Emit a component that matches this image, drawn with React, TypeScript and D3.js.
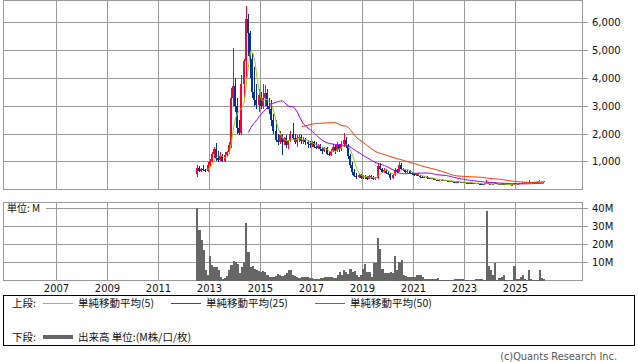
import React, { useEffect, useRef } from 'react'
import * as d3 from 'd3'

// monthly bars, first one is July 2012
const startYear = 2012
const startMonth = 6

// [open, high, low, close]
const candles = [
  // 2012
  [560, 890, 450, 800], [800, 850, 640, 680], [680, 800, 650, 760], [760, 890, 660, 700], [700, 740, 640, 660], [660, 1010, 650, 900],
  // 2013
  [900, 1100, 820, 1050], [1050, 1370, 1000, 1300], [1300, 1550, 1150, 1450], [1450, 1670, 1050, 1150], [1150, 1400, 1000, 1080], [1080, 1370, 1050, 1200],
  [1200, 1300, 1000, 1050], [1050, 1350, 1000, 1250], [1250, 1400, 1180, 1350], [1350, 1700, 1300, 1620], [1620, 3640, 1500, 3300], [3300, 5070, 3000, 3700],
  // 2014
  [3700, 4000, 2800, 3000], [3000, 3300, 2000, 2200], [2200, 2500, 1950, 2050], [2050, 4100, 1950, 3800], [3800, 4700, 3300, 4600], [4600, 6570, 4000, 6100],
  [6100, 6300, 4800, 5600], [5600, 5700, 4000, 4700], [4700, 4900, 3300, 3500], [3500, 4400, 3000, 3200], [3200, 3800, 2900, 3050], [3050, 3600, 2800, 3400],
  // 2015
  [3400, 3500, 2900, 3000], [3000, 3800, 2900, 3300], [3300, 3750, 3000, 3450], [3450, 3600, 2900, 3000], [3000, 3300, 2700, 2900], [2900, 3200, 2300, 2500],
  [2500, 2700, 2000, 2100], [2100, 2500, 1700, 1800], [1800, 2000, 1600, 1700], [1700, 2100, 1650, 1950], [1950, 2000, 1250, 1700], [1700, 1900, 1600, 1850],
  // 2016
  [1850, 1950, 1500, 1600], [1600, 1800, 1450, 1750], [1750, 2100, 1700, 2000], [2000, 2400, 1800, 1850], [1850, 2000, 1650, 1700], [1700, 1950, 1550, 1850],
  [1850, 2000, 1700, 1900], [1900, 1950, 1650, 1750], [1750, 1900, 1650, 1800], [1800, 1850, 1600, 1700], [1700, 1800, 1500, 1650], [1650, 1750, 1500, 1600],
  // 2017
  [1600, 1750, 1550, 1700], [1700, 1750, 1500, 1550], [1550, 1700, 1450, 1500], [1500, 1650, 1450, 1600], [1600, 1650, 1400, 1450], [1450, 1550, 1300, 1400],
  [1400, 1550, 1350, 1500], [1500, 1520, 1250, 1300], [1300, 1400, 1200, 1250], [1250, 1450, 1200, 1400], [1400, 1650, 1350, 1550], [1550, 1600, 1300, 1400],
  // 2018
  [1400, 1700, 1350, 1600], [1600, 1650, 1350, 1450], [1450, 1750, 1400, 1650], [1650, 2030, 1550, 1800], [1800, 1900, 1500, 1600], [1600, 1650, 1100, 1200],
  [1200, 1300, 800, 900], [900, 1000, 550, 650], [650, 750, 450, 500], [500, 600, 380, 450], [450, 600, 420, 550], [550, 580, 380, 420],
  // 2019
  [420, 550, 380, 500], [500, 540, 400, 450], [450, 500, 360, 400], [400, 520, 380, 480], [480, 520, 380, 420], [420, 480, 360, 400],
  [400, 460, 370, 410], [410, 960, 390, 850], [850, 950, 700, 750], [750, 800, 620, 650], [650, 780, 620, 720], [720, 760, 580, 620],
  // 2020
  [620, 680, 520, 560], [560, 600, 360, 420], [420, 560, 380, 520], [520, 800, 500, 720], [720, 760, 600, 650], [650, 1000, 640, 880],
  [880, 960, 700, 760], [760, 800, 660, 700], [700, 740, 600, 640], [640, 720, 620, 680], [680, 700, 560, 600], [600, 640, 520, 560],
  // 2021
  [560, 600, 500, 520], [520, 620, 510, 580], [580, 600, 480, 500], [500, 520, 440, 460], [460, 480, 420, 440], [440, 490, 430, 470],
  [470, 480, 400, 420], [420, 440, 380, 400], [400, 430, 390, 420], [420, 430, 370, 380], [380, 390, 340, 350], [350, 370, 320, 340],
  // 2022
  [340, 380, 330, 370], [370, 380, 320, 330], [330, 360, 320, 350], [350, 360, 310, 320], [320, 330, 290, 300], [300, 330, 290, 320],
  [320, 330, 290, 300], [300, 310, 270, 280], [280, 310, 270, 300], [300, 305, 260, 270], [270, 280, 250, 260], [260, 290, 250, 280],
  // 2023
  [280, 285, 250, 260], [260, 270, 240, 250], [250, 270, 240, 260], [260, 265, 230, 240], [240, 250, 220, 230], [230, 250, 225, 245],
  [245, 250, 220, 225], [225, 230, 200, 210], [210, 215, 180, 190], [190, 230, 180, 220], [220, 350, 200, 260], [260, 270, 200, 210],
  // 2024
  [210, 240, 180, 190], [190, 220, 185, 205], [205, 290, 200, 240], [240, 245, 200, 210], [210, 220, 190, 200], [200, 230, 195, 215],
  [215, 240, 190, 195], [195, 200, 180, 185], [185, 200, 180, 195], [195, 200, 175, 180], [180, 195, 175, 190], [190, 260, 185, 230],
  // 2025
  [230, 240, 200, 210], [210, 230, 205, 225], [225, 260, 220, 250], [250, 270, 230, 240], [240, 265, 235, 260], [260, 280, 250, 270],
  [270, 340, 260, 290], [290, 300, 270, 280], [280, 300, 275, 295], [295, 300, 280, 285], [285, 310, 280, 300], [300, 360, 290, 320],
  // 2026
  [320, 330, 290, 300], [300, 320, 295, 310],
]

// monthly volume, millions
const volumes = [
  40, 28, 22.6, 17, 6, 3.3,
  13.3, 8.3, 7.4, 7.4, 5.9, 2.2, 0.7, 1.5, 2.6, 5.6, 8.3, 11,
  10, 9.3, 4.1, 7.4, 10.2, 31.5, 15.7, 7.4, 7.8, 6.5, 5.6, 5.2,
  4.6, 5.2, 4.6, 2.8, 1.9, 2.2, 1.9, 2.6, 3.7, 2.8, 2.6, 3.3,
  4.1, 5.6, 5.9, 3.3, 2.6, 1.9, 1.5, 1.9, 1.7, 1.9, 2.2, 1.5,
  1.5, 1.1, 1.1, 0.9, 1.3, 1.5, 1.9, 1.9, 2.2, 1.9, 1.5, 1.5,
  2.8, 4.6, 3.3, 5.6, 4.6, 3.7, 6.5, 4.6, 5.2, 2.8, 2.2, 3.3,
  6.5, 9.3, 4.6, 4.6, 2, 9.6, 9.6, 23.5, 17.6, 6.5, 4.1, 4.1,
  4.1, 4.6, 4.1, 13.3, 5.6, 10.2, 11.5, 3.3, 2.6, 2.2, 2.2, 1.9,
  2.2, 3.3, 3.3, 2.8, 2.2, 0.6, 0.6, 0.6, 0.6, 0.6, 0.6, 1.5,
  0.4, 0.4, 0.4, 0.4, 0.4, 0.4, 0.4, 0.7, 0.7, 0.7, 0.6, 1.1,
  0.3, 0.3, 0.3, 0.3, 0.3, 0.6, 0.6, 0.7, 0.7, 0.5, 38.3, 7.8,
  5.6, 2.8, 9.6, 0.4, 1.5, 1.9, 2.8, 0.4, 0.4, 0.4, 0.5, 7.8,
  0.9, 0.7, 2.2, 2.8, 0.7, 0.4, 5.6, 0.7, 0.3, 0.3, 0.4, 5.6,
  1.2, 0.7,
]

const priceTicks = [1000, 2000, 3000, 4000, 5000, 6000]
const volumeTicks = [10, 20, 30, 40]
const yearTicks = [2007, 2009, 2011, 2013, 2015, 2017, 2019, 2021, 2023, 2025]
const maPeriods = [5, 25, 50]
const maLabels = ['単純移動平均(5)', '単純移動平均(25)', '単純移動平均(50)']

const maColors = ['#99cc00', '#9900ff', '#ff3300']
const upColor = '#ff0033'
const downColor = '#003399'
const gridColor = '#999999'
const font = '"DejaVu Sans", Verdana, sans-serif'
const jpFont = '"Noto Sans CJK JP", sans-serif'

export default function App() {
  const ref = useRef<SVGSVGElement>(null)

  useEffect(() => {
    const svg = d3.select(ref.current)
    svg.selectAll('*').remove()

    const left = 3, right = 582
    const priceTop = 0, priceBottom = 189
    const volTop = 202, volBottom = 280

    const months = candles.map((_, i) => new Date(startYear, startMonth + i, 1))
    const nextMonth = (d: Date) => new Date(d.getFullYear(), d.getMonth() + 1, 1)

    const x = d3.scaleTime()
      .domain([new Date(2007, 0, 1), new Date(2025, 0, 1)])
      .range([56, 515.5])
    const y = d3.scaleLinear().domain([0, 6000]).range([189.9, 22.2])
    const yv = d3.scaleLinear().domain([0, 40]).range([280.5, 208])

    const px = (v: number) => Math.floor(v) + 0.5

    const g = svg.append('g').attr('shape-rendering', 'crispEdges')

    // grids
    const drawGrid = (top: number, bottom: number, ys: number[]) => {
      g.append('g').selectAll('line.v').data(yearTicks).enter().append('line')
        .attr('x1', d => px(x(new Date(d, 0, 1)))).attr('x2', d => px(x(new Date(d, 0, 1))))
        .attr('y1', top).attr('y2', bottom + 0.5)
        .attr('stroke', gridColor)
      g.append('g').selectAll('line.h').data(ys).enter().append('line')
        .attr('x1', left).attr('x2', right + 6)
        .attr('y1', d => px(d)).attr('y2', d => px(d))
        .attr('stroke', gridColor)
      g.append('rect')
        .attr('x', left + 0.5).attr('y', top + 0.5)
        .attr('width', right - left).attr('height', bottom - top)
        .attr('fill', 'none').attr('stroke', gridColor)
    }
    drawGrid(priceTop, priceBottom, priceTicks.map(y))
    drawGrid(volTop, volBottom, volumeTicks.map(yv))

    // candles
    const cg = g.append('g')
    candles.forEach(([o, h, l, c], i) => {
      const x0 = Math.floor(x(months[i]))
      const col = c >= o ? upColor : downColor
      cg.append('rect')
        .attr('x', x0 + 1).attr('width', 1)
        .attr('y', Math.round(y(h))).attr('height', Math.max(1, Math.round(y(l)) - Math.round(y(h))))
        .attr('fill', col)
      const top = Math.round(y(Math.max(o, c)))
      const bot = Math.round(y(Math.min(o, c)))
      cg.append('rect')
        .attr('x', x0).attr('width', 2)
        .attr('y', top).attr('height', Math.max(1, bot - top))
        .attr('fill', col)
    })

    // moving averages
    const closes = candles.map(d => d[3])
    maPeriods.forEach((n, k) => {
      const pts = closes.map((_, i) => i < n - 1 ? null : d3.mean(closes.slice(i - n + 1, i + 1)) as number)
      const line = d3.line<number | null>()
        .defined(d => d != null)
        .x((_, i) => (x(months[i]) + x(nextMonth(months[i]))) / 2)
        .y(d => y(d as number))
      svg.append('path')
        .datum(pts)
        .attr('d', line)
        .attr('fill', 'none')
        .attr('stroke', maColors[k])
        .attr('stroke-width', 1)
    })

    // volume bars
    g.append('g').selectAll('rect').data(volumes).enter().append('rect')
      .attr('x', (_, i) => x(months[i]))
      .attr('width', (_, i) => x(nextMonth(months[i])) - x(months[i]))
      .attr('y', d => yv(d))
      .attr('height', d => yv(0) - yv(d))
      .attr('fill', '#666666')

    // axis labels
    svg.append('g').selectAll('text').data(priceTicks).enter().append('text')
      .attr('x', 592).attr('y', d => px(y(d)) + 3.5)
      .attr('font-family', font).attr('font-size', 10).attr('fill', '#111')
      .text(d => d3.format(',')(d))
    svg.append('g').selectAll('text').data(volumeTicks).enter().append('text')
      .attr('x', 592).attr('y', d => px(yv(d)) + 3.5)
      .attr('font-family', font).attr('font-size', 10).attr('fill', '#111')
      .text(d => d + 'M')
    svg.append('g').selectAll('text').data(yearTicks).enter().append('text')
      .attr('x', d => px(x(new Date(d, 0, 1)))).attr('y', 291.5)
      .attr('text-anchor', 'middle')
      .attr('font-family', font).attr('font-size', 10).attr('fill', '#111')
      .text(d => d)

    svg.append('rect').attr('x', 4).attr('y', 203).attr('width', 42).attr('height', 10).attr('fill', '#fff')
    svg.append('text').attr('x', 7).attr('y', 211.5)
      .attr('font-family', jpFont).attr('font-size', 10).attr('fill', '#111')
      .text('単位: M')

    // legend
    const lg = svg.append('g')
    lg.append('rect').attr('x', 3.5).attr('y', 295.5).attr('width', 631).attr('height', 50)
      .attr('fill', 'none').attr('stroke', '#000').attr('shape-rendering', 'crispEdges')
    const legendText = (tx: number, ty: number, s: string) =>
      lg.append('text').attr('x', tx).attr('y', ty)
        .attr('font-family', jpFont).attr('font-size', 10.5).attr('fill', '#111').text(s)
    legendText(12, 307, '上段:')
    const itemX = [43, 171, 315]
    maLabels.forEach((s, k) => {
      lg.append('line').attr('x1', itemX[k]).attr('x2', itemX[k] + 30)
        .attr('y1', 303.5).attr('y2', 303.5)
        .attr('stroke', maColors[k]).attr('shape-rendering', 'crispEdges')
      legendText(itemX[k] + 35, 307, s)
    })
    legendText(12, 340.5, '下段:')
    lg.append('line').attr('x1', 43).attr('x2', 73).attr('y1', 337).attr('y2', 337)
      .attr('stroke', '#666666').attr('stroke-width', 4).attr('shape-rendering', 'crispEdges')
    legendText(78, 340.5, '出来高 単位:(M株/口/枚)')

    svg.append('text').attr('x', 617).attr('y', 360)
      .attr('text-anchor', 'end')
      .attr('font-family', font).attr('font-size', 9.8).attr('fill', '#555')
      .text('(c)Quants Research Inc.')
  }, [])

  return (
    <svg ref={ref} width={638} height={362}
      style={{ position: 'absolute', left: 0, top: 0, background: '#fff' }} />
  )
}
